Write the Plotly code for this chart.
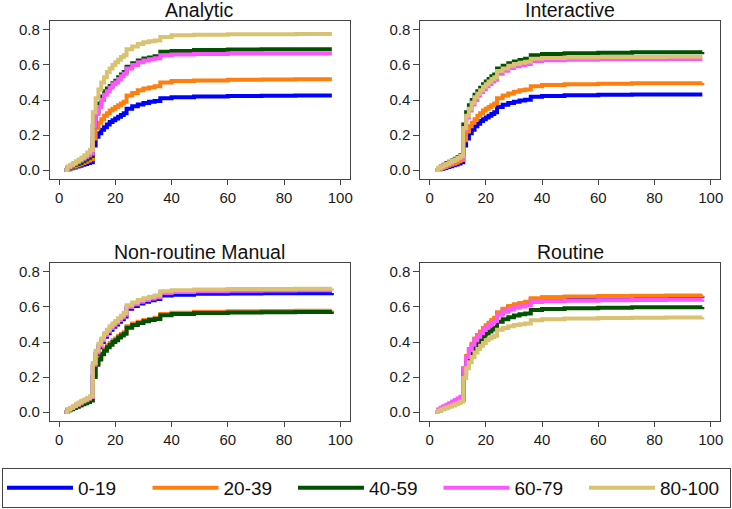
import plotly.graph_objects as go

# ---------------- data ----------------
months = [2, 3, 4, 5, 6, 7, 8, 9, 10, 11, 12, 13, 14, 15, 16, 17, 18, 19, 20, 21, 22, 23,
          24, 26, 28, 30, 32, 34, 36, 40, 48, 60, 72, 84, 97]

groups = ["0-19", "20-39", "40-59", "60-79", "80-100"]
colors = ["#0000FF", "#FF7F0E", "#005200", "#FF55FF", "#D9C272"]
panel_titles = ["Analytic", "Interactive", "Non-routine Manual", "Routine"]

x_ticks = [0, 20, 40, 60, 80, 100]
y_ticks = [0.0, 0.2, 0.4, 0.6, 0.8]

# Analytic
analytic_0_19 = [0, .005, .01, .015, .02, .025, .03, .035, .04, .045, .14, .19, .21, .23, .245, .26, .275, .285,
                 .295, .305, .315, .325, .35, .365, .375, .383, .39, .395, .41, .415, .42, .423, .424, .425, .425]
analytic_20_39 = [0, .008, .015, .02, .027, .033, .04, .047, .055, .062, .18, .24, .27, .29, .31, .325, .34, .35,
                  .36, .37, .38, .39, .425, .44, .455, .465, .472, .478, .50, .508, .512, .515, .517, .518, .518]
analytic_40_59 = [0, .01, .02, .03, .035, .04, .05, .06, .07, .08, .25, .33, .38, .42, .45, .465, .48, .495,
                  .51, .53, .545, .56, .59, .61, .625, .637, .643, .65, .675, .68, .685, .688, .69, .69, .69]
analytic_60_79 = [0, .015, .025, .035, .045, .055, .065, .075, .085, .095, .25, .32, .36, .40, .43, .45, .47, .49,
                  .50, .52, .535, .55, .58, .60, .615, .625, .632, .638, .655, .66, .663, .665, .665, .665, .665]
analytic_80_100 = [0, .02, .03, .04, .05, .06, .07, .085, .10, .115, .33, .41, .46, .50, .53, .56, .58, .60,
                   .615, .63, .645, .655, .69, .705, .72, .73, .735, .74, .76, .77, .773, .775, .776, .777, .777]

# Interactive
interactive_0_19 = [0, .004, .008, .012, .017, .022, .027, .032, .038, .044, .14, .18, .21, .23, .25, .265, .28, .29,
                    .30, .31, .32, .33, .36, .373, .383, .39, .397, .402, .418, .423, .427, .43, .431, .432, .432]
interactive_20_39 = [0, .006, .012, .018, .024, .03, .036, .042, .05, .058, .17, .22, .25, .27, .29, .31, .325, .34,
                     .35, .36, .37, .38, .41, .425, .437, .447, .455, .46, .478, .485, .49, .493, .495, .496, .497]
interactive_40_59 = [0, .012, .02, .03, .04, .048, .055, .065, .075, .085, .26, .33, .37, .40, .43, .45, .47, .49,
                     .505, .52, .535, .545, .58, .595, .61, .62, .628, .635, .655, .662, .667, .67, .672, .673, .674]
interactive_60_79 = [0, .01, .018, .026, .034, .042, .05, .058, .066, .075, .23, .30, .34, .375, .40, .425, .445, .462,
                     .478, .492, .505, .515, .55, .567, .582, .592, .60, .605, .622, .627, .63, .632, .633, .634, .634]
interactive_80_100 = [0, .012, .02, .028, .036, .044, .052, .06, .07, .08, .24, .31, .35, .385, .415, .435, .455, .475,
                      .49, .505, .52, .53, .565, .58, .595, .605, .612, .618, .635, .64, .643, .645, .646, .647, .647]

# Non-routine Manual
manual_0_19 = [0, .012, .02, .03, .038, .046, .054, .062, .07, .08, .26, .33, .37, .40, .43, .45, .47, .487,
               .50, .515, .53, .545, .59, .605, .62, .63, .638, .645, .665, .67, .675, .677, .678, .679, .68]
manual_20_39 = [0, .01, .017, .025, .032, .04, .047, .054, .062, .07, .21, .28, .31, .335, .36, .38, .395, .41,
                .42, .435, .445, .455, .49, .505, .515, .525, .532, .538, .56, .567, .572, .575, .577, .578, .58]
manual_40_59 = [0, .01, .016, .023, .03, .037, .044, .051, .058, .066, .20, .27, .30, .33, .35, .37, .385, .40,
                .41, .425, .437, .447, .482, .497, .508, .518, .525, .532, .553, .56, .565, .568, .57, .571, .572]
manual_60_79 = [0, .014, .023, .033, .042, .05, .06, .068, .076, .086, .27, .34, .38, .41, .44, .46, .48, .495,
                .51, .525, .54, .555, .60, .615, .63, .64, .648, .655, .68, .686, .69, .692, .694, .695, .695]
manual_80_100 = [0, .015, .025, .035, .045, .055, .065, .072, .08, .09, .28, .35, .39, .42, .45, .47, .49, .505,
                 .52, .535, .55, .565, .61, .625, .64, .65, .658, .665, .69, .695, .70, .702, .703, .704, .705]

# Routine
routine_0_19 = [0, .011, .019, .027, .035, .043, .051, .059, .067, .076, .245, .315, .355, .385, .415, .435, .455, .47,
                .485, .50, .515, .53, .565, .585, .60, .61, .618, .625, .645, .652, .656, .658, .66, .661, .662]
routine_20_39 = [0, .012, .02, .028, .036, .044, .052, .06, .068, .078, .25, .32, .36, .39, .42, .44, .46, .48,
                 .495, .51, .525, .538, .57, .59, .605, .615, .623, .63, .65, .656, .66, .662, .664, .665, .666]
routine_40_59 = [0, .01, .017, .024, .031, .038, .045, .052, .06, .068, .22, .28, .32, .35, .375, .395, .415, .432,
                 .448, .46, .472, .482, .515, .53, .542, .551, .558, .563, .583, .589, .593, .596, .598, .599, .60]
routine_60_79 = [0, .015, .024, .033, .042, .051, .06, .069, .078, .088, .25, .315, .355, .385, .41, .43, .45, .468,
                 .483, .497, .51, .52, .555, .572, .585, .595, .603, .61, .628, .633, .636, .638, .64, .641, .642]
routine_80_100 = [0, .008, .014, .02, .026, .032, .038, .045, .052, .06, .195, .25, .285, .315, .34, .36, .378, .395,
                  .41, .42, .428, .435, .47, .48, .49, .497, .502, .506, .524, .53, .534, .537, .539, .54, .541]

panels = [
    [analytic_0_19, analytic_20_39, analytic_40_59, analytic_60_79, analytic_80_100],
    [interactive_0_19, interactive_20_39, interactive_40_59, interactive_60_79, interactive_80_100],
    [manual_0_19, manual_20_39, manual_40_59, manual_60_79, manual_80_100],
    [routine_0_19, routine_20_39, routine_40_59, routine_60_79, routine_80_100],
]

# ---------------- layout geometry ----------------
W, H = 732, 509
x_domains = [[50 / W, 351 / W], [422 / W, 723 / W]]
y_domains = [[(H - 179) / H, (H - 21) / H], [(H - 421) / H, (H - 263) / H]]

FONT = "Liberation Sans, Arial, sans-serif"
AX_COLOR = "#444444"

fig = go.Figure()

for p, series in enumerate(panels):
    row, col = divmod(p, 2)
    suffix = "" if p == 0 else str(p + 1)
    for g, vals in enumerate(series):
        fig.add_trace(go.Scatter(
            x=months, y=vals, mode="lines", line_shape="hv",
            line=dict(color=colors[g], width=4),
            name=groups[g], legendgroup=groups[g], showlegend=(p == 0),
            xaxis="x" + suffix, yaxis="y" + suffix,
        ))
    axis_common = dict(showline=True, mirror=True, linecolor=AX_COLOR, linewidth=1,
                       ticks="outside", tickcolor=AX_COLOR, showgrid=False, zeroline=False,
                       tickfont=dict(family=FONT, size=15, color="#1a1a1a"))
    fig.layout["xaxis" + suffix] = dict(domain=x_domains[col], anchor="y" + suffix,
                                        range=[-3.3, 103.3], tickvals=x_ticks, ticklen=5,
                                        **axis_common)
    fig.layout["yaxis" + suffix] = dict(domain=y_domains[row], anchor="x" + suffix,
                                        range=[-0.051, 0.851], tickvals=y_ticks, ticklen=6,
                                        tickformat=".1f", **axis_common)
    fig.add_annotation(text=panel_titles[p], xref="paper", yref="paper",
                       x=sum(x_domains[col]) / 2, y=y_domains[row][1],
                       xanchor="center", yanchor="bottom", yshift=-2, showarrow=False,
                       font=dict(family=FONT, size=19.5, color="#111111"))

fig.update_layout(
    width=W, height=H,
    margin=dict(l=0, r=0, t=0, b=0),
    paper_bgcolor="white", plot_bgcolor="white",
    legend=dict(orientation="h", x=2 / W, y=1 / H, xanchor="left", yanchor="bottom",
                bordercolor=AX_COLOR, borderwidth=1, itemwidth=66,
                entrywidth=64.5, entrywidthmode="pixels",
                font=dict(family=FONT, size=19, color="#111111"),
                tracegroupgap=0),
)

fig.write_html("out.html", config={"displayModeBar": False},
               post_script="document.body.style.margin='0px';")
